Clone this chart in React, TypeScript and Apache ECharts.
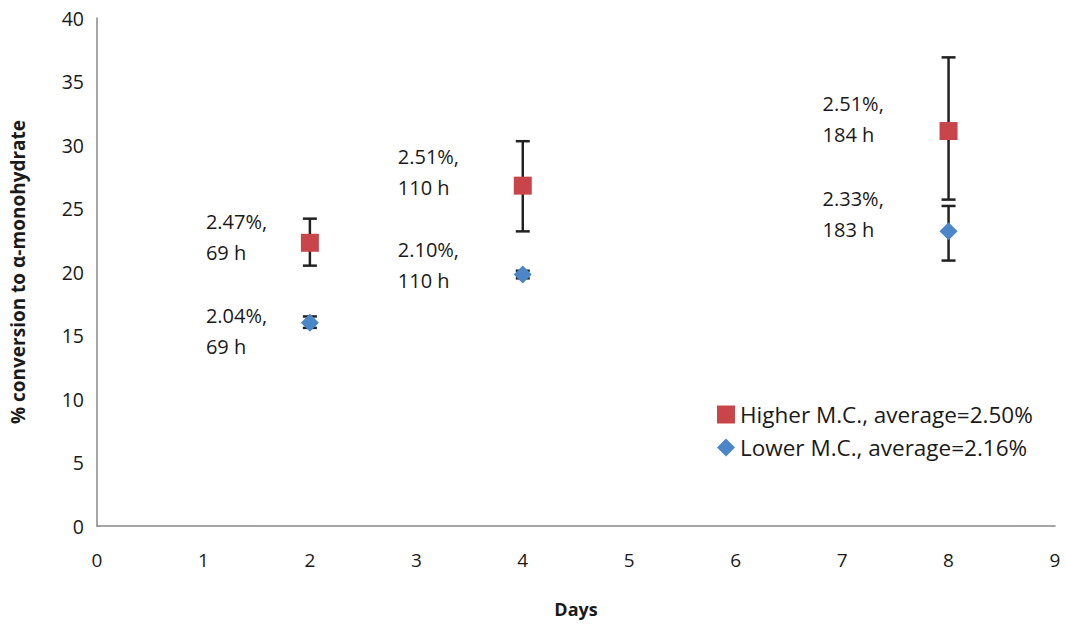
import React, { useEffect, useRef } from "react";
import * as echarts from "echarts";

const days = [2, 4, 8];
const higherValues = [22.3, 26.8, 31.1];
const higherLow = [20.5, 23.2, 25.7];
const higherHigh = [24.2, 30.3, 36.9];
const lowerValues = [16.0, 19.8, 23.2];
const lowerLow = [15.6, 19.5, 20.9];
const lowerHigh = [16.5, 20.1, 25.2];
const higherLabels = ["2.47%,\n69 h", "2.51%,\n110 h", "2.51%,\n184 h"];
const lowerLabels = ["2.04%,\n69 h", "2.10%,\n110 h", "2.33%,\n183 h"];
const seriesNames = ["Higher M.C., average=2.50%", "Lower M.C., average=2.16%"];

// label placement offsets (px) relative to marker centre
const higherLabelOffsets = [[-104, -36.5], [-125, -44.5], [-126, -43.5]];
const lowerLabelOffsets = [[-104, -22.5], [-125, -40.5], [-126, -48.5]];

const FONT = "'Open Sans', sans-serif";

export default function App() {
  const ref = useRef<HTMLDivElement>(null);
  useEffect(() => {
    const chart = echarts.init(ref.current!, null, { renderer: "svg" });
    const hSize = 18;
    const lSize = 18;
    const errData = [
      ...days.map((d, i) => [d, higherLow[i], higherHigh[i]]),
      ...days.map((d, i) => [d, lowerLow[i], lowerHigh[i]]),
    ];
    const labelStyle = {
      show: true,
      align: "left",
      verticalAlign: "top",
      fontFamily: FONT,
      fontSize: 20,
      lineHeight: 31,
      color: "#1a1a1a",
      opacity: 1,
    };
    chart.setOption({
      animation: false,
      backgroundColor: "#fff",
      grid: { left: 97, right: 12, top: 18, bottom: 98 },
      xAxis: {
        type: "value",
        min: 0,
        max: 9,
        interval: 1,
        name: "Days",
        nameLocation: "middle",
        nameGap: 74,
        nameTextStyle: { fontFamily: FONT, fontSize: 18, fontWeight: "bold", color: "#1a1a1a" },
        axisLine: { show: true, lineStyle: { color: "#888", width: 1.5 } },
        axisTick: { show: false },
        splitLine: { show: false },
        axisLabel: { fontFamily: FONT, fontSize: 19, color: "#1a1a1a", margin: 24 },
      },
      yAxis: {
        type: "value",
        min: 0,
        max: 40,
        interval: 5,
        name: "% conversion to α-monohydrate",
        nameLocation: "middle",
        nameGap: 70,
        nameTextStyle: { fontFamily: FONT, fontSize: 19, fontWeight: "bold", color: "#1a1a1a" },
        axisLine: { show: true, lineStyle: { color: "#888", width: 1.5 } },
        axisTick: { show: false },
        splitLine: { show: false },
        axisLabel: { fontFamily: FONT, fontSize: 19.5, color: "#1a1a1a", margin: 13 },
      },
      legend: {
        orient: "vertical",
        left: 712,
        top: 398,
        itemWidth: 18,
        itemHeight: 18,
        itemGap: 10,
        textStyle: { fontFamily: FONT, fontSize: 22.5, color: "#1a1a1a", padding: [0, 0, 0, 0] },
        data: [
          { name: seriesNames[0], icon: "rect" },
          { name: seriesNames[1], icon: "diamond" },
        ],
      },
      series: [
        {
          type: "custom",
          name: "errors",
          z: 1,
          data: errData,
          encode: { x: 0, y: [1, 2] },
          renderItem: (params: any, api: any) => {
            const x = api.value(0);
            const top = api.coord([x, api.value(2)]);
            const bot = api.coord([x, api.value(1)]);
            const cw = 7;
            const style = { stroke: "#222", lineWidth: 2.5 };
            return {
              type: "group",
              children: [
                { type: "line", shape: { x1: top[0], y1: top[1], x2: bot[0], y2: bot[1] }, style },
                { type: "line", shape: { x1: top[0] - cw, y1: top[1], x2: top[0] + cw, y2: top[1] }, style },
                { type: "line", shape: { x1: bot[0] - cw, y1: bot[1], x2: bot[0] + cw, y2: bot[1] }, style },
              ],
            };
          },
        },
        {
          type: "scatter",
          name: seriesNames[0],
          z: 3,
          symbol: "rect",
          symbolSize: hSize,
          itemStyle: { color: "#C8464A", opacity: 1 },
          data: days.map((d, i) => ({
            value: [d, higherValues[i]],
            label: {
              ...labelStyle,
              formatter: higherLabels[i],
              position: [higherLabelOffsets[i][0] + hSize / 2, higherLabelOffsets[i][1] + hSize / 2],
            },
          })),
        },
        {
          type: "scatter",
          name: seriesNames[1],
          z: 3,
          symbol: "diamond",
          symbolSize: lSize,
          itemStyle: { color: "#4A86C8", opacity: 1 },
          data: days.map((d, i) => ({
            value: [d, lowerValues[i]],
            label: {
              ...labelStyle,
              formatter: lowerLabels[i],
              position: [lowerLabelOffsets[i][0] + lSize / 2, lowerLabelOffsets[i][1] + lSize / 2],
            },
          })),
        },
      ],
    });
    return () => chart.dispose();
  }, []);
  return <div ref={ref} style={{ width: 1067, height: 624, position: "absolute", left: 0, top: 0 }} />;
}
